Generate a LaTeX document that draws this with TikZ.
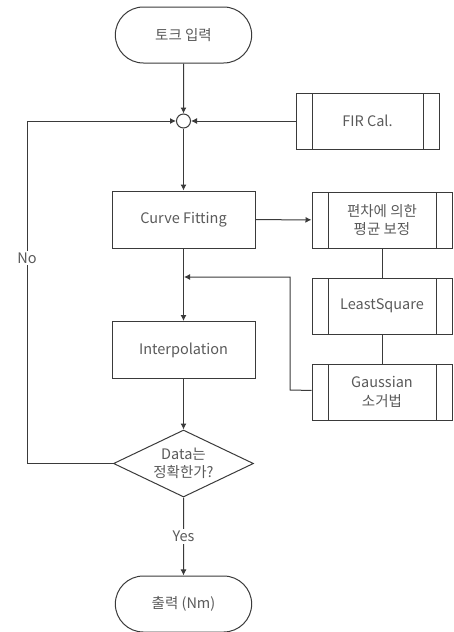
\documentclass[tikz,border=0pt]{standalone}
\usepackage{fontspec}
\setmainfont{Noto Sans CJK KR}
\usetikzlibrary{shapes.geometric, shapes.misc, arrows.meta, positioning}
\definecolor{linegray}{HTML}{3A3A3A}
\definecolor{textgray}{HTML}{5A5A5A}
\tikzset{
  every node/.style={font=\fontsize{14.5}{18.5}\selectfont, text=textgray, align=center},
  terminal/.style={rounded rectangle, draw=linegray, line width=1pt, minimum width=143pt, minimum height=56pt},
  process/.style={rectangle, draw=linegray, line width=1pt, minimum width=143pt, minimum height=57pt},
  subproc/.style={process, minimum width=140pt, minimum height=56pt,
    path picture={\draw[linegray, line width=1pt]
      ([xshift=16pt]path picture bounding box.north west) -- ([xshift=16pt]path picture bounding box.south west)
      ([xshift=-16pt]path picture bounding box.north east) -- ([xshift=-16pt]path picture bounding box.south east);}},
  decision/.style={diamond, draw=linegray, line width=1pt, aspect=2.1, minimum width=140pt, minimum height=67pt, inner sep=0pt},
  junction/.style={circle, draw=linegray, line width=1pt, minimum size=14pt, inner sep=0pt},
  flow/.style={-{Latex[length=6pt,width=6pt]}, draw=linegray, line width=1pt},
  link/.style={draw=linegray, line width=1pt},
  lbl/.style={fill=white, inner sep=2pt}
}
\begin{document}
\begin{tikzpicture}[x=1pt, y=-1pt]
    \useasboundingbox (0,0) rectangle (453,632);
    \node[terminal] (start) at (183.5,35) {토크 입력};
    \node[junction] (join) at (183.5,121) {};
    \node[subproc, minimum width=143pt] (fir) at (367.5,121) {FIR Cal.};
    \node[process] (fit) at (183.5,219.5) {Curve Fitting};
    \node[subproc] (dev) at (382,220) {편차에 의한\\평균 보정};
    \node[subproc, below=29pt of dev] (lsq) {LeastSquare};
    \node[subproc, below=29pt of lsq] (gauss) {Gaussian\\소거법};
    \node[process] (interp) at (183.5,350) {Interpolation};
    \node[decision] (check) at (183.5,463.5) {Data는\\정확한가?};
    \node[terminal] (stop) at (183.5,604) {출력 (Nm)};

    \coordinate (turn) at (290,390);
    \coordinate (merge) at (184,277);
    \coordinate (loopb) at (27,463.5);
    \coordinate (loopt) at (27,121);

    \draw[flow] (start) -- (join);
    \draw[flow] (fir) -- (join);
    \draw[flow] (join) -- (fit);
    \draw[flow] (fit) -- (dev);
    \draw[link] (dev) -- (lsq) -- (gauss);
    \draw[flow] (gauss) -- (turn) |- (merge);
    \draw[flow] (fit) -- (interp);
    \draw[flow] (interp) -- (check);
    \draw[flow] (check) -- (loopb) -- node[lbl, pos=0.6] {No} (loopt) -- (join);
    \draw[flow] (check) -- node[lbl] {Yes} (stop);
\end{tikzpicture}
\end{document}
